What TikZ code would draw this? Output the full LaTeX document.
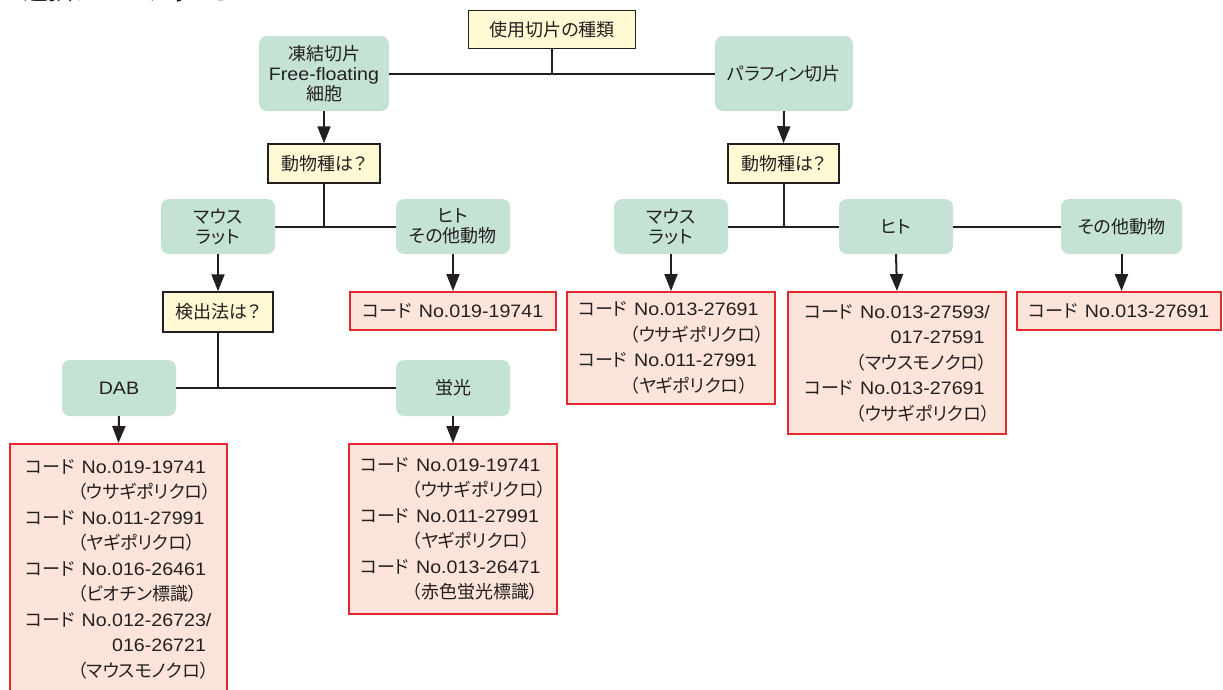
\documentclass[tikz,border=0pt]{standalone}
\usepackage{fontspec}
\setmainfont[RawFeature=+palt]{Noto Sans CJK JP}
\newfontfamily\lat[FakeStretch=1.09]{Liberation Sans}
\usetikzlibrary{arrows.meta}
\definecolor{grn}{HTML}{C5E3D5}
\definecolor{ylw}{HTML}{FFFAD4}
\definecolor{redf}{HTML}{FCE4DA}
\definecolor{redd}{HTML}{E52A2E}
\definecolor{ink}{HTML}{231F20}
\newcommand\cd[1]{コード\hspace{7pt}{\lat No.#1}}
\newcommand\pl[1]{\hspace*{52pt}#1}
\newcommand\nm[1]{\phantom{コード\hspace{7pt}{\lat No.}}{\lat #1}}
\begin{document}
\begin{tikzpicture}[x=1pt,y=-1pt, font=\fontsize{18}{20}\selectfont, text=ink,
  greenbox/.style={fill=grn, rounded corners=8pt, align=center, inner sep=0pt},
  qbox/.style={fill=ylw, draw=ink, line width=1.5pt, align=center, inner sep=0pt},
  codebox/.style={fill=redf, draw=redd, line width=2pt, align=left, inner sep=0pt, font=\fontsize{18}{25.5}\selectfont},
  conn/.style={draw=ink, line width=2pt},
  arr/.style={conn, -{Triangle[length=17pt,width=13pt]}}]
\clip (0,0) rectangle (1223,689);
% title (mostly cut off)
\node[anchor=base west, font=\fontsize{25}{25}\bfseries\selectfont] (title) at (20,-1) {選択フローチャート};
% top level
\node[qbox, minimum width=167pt, minimum height=38pt] (kind) at (552,29.5) {使用切片の種類};
\node[greenbox, minimum width=130pt, minimum height=75pt] (frozen) at (324,73.5) {凍結切片\\{\lat Free-floating}\\細胞};
\node[greenbox, minimum width=138pt, minimum height=75pt] (paraffin) at (784,73.5) {パラフィン切片};
% questions
\node[qbox, minimum width=112pt, minimum height=39pt] (q1) at (324,163.5) {動物種は？};
\node[qbox, minimum width=111pt, minimum height=39pt] (q2) at (783.5,163.5) {動物種は？};
% left animals
\node[greenbox, minimum width=114pt, minimum height=55pt] (lmouse) at (218,226.5) {マウス\\ラット};
\node[greenbox, minimum width=114pt, minimum height=55pt] (lhuman) at (453,226.5) {ヒト\\その他動物};
% right animals
\node[greenbox, minimum width=114pt, minimum height=55pt] (rmouse) at (671,226.5) {マウス\\ラット};
\node[greenbox, minimum width=114pt, minimum height=55pt] (rhuman) at (896,226.5) {ヒト};
\node[greenbox, minimum width=121pt, minimum height=55pt] (rother) at (1121.5,226.5) {その他動物};
% detection
\node[qbox, minimum width=110pt, minimum height=40pt] (q3) at (218,312) {検出法は？};
\node[greenbox, minimum width=114pt, minimum height=56pt] (dab) at (119,388) {{\lat DAB}};
\node[greenbox, minimum width=114pt, minimum height=56pt] (fl) at (453,388) {蛍光};
% code boxes
\node[codebox, minimum width=206pt, minimum height=38pt] (lhcode) at (453,311) {\cd{019-19741}};
\node[codebox, minimum width=217pt, minimum height=250pt] (dabcode) at (118.5,569) {\cd{019-19741}\\\pl{（ウサギポリクロ）}\\\cd{011-27991}\\\pl{（ヤギポリクロ）}\\\cd{016-26461}\\\pl{（ビオチン標識）}\\\cd{012-26723/}\\\nm{016-26721}\\\pl{（マウスモノクロ）}};
\node[codebox, minimum width=208pt, minimum height=170pt] (flcode) at (453,529) {\cd{019-19741}\\\pl{（ウサギポリクロ）}\\\cd{011-27991}\\\pl{（ヤギポリクロ）}\\\cd{013-26471}\\\pl{（赤色蛍光標識）}};
\node[codebox, minimum width=208pt, minimum height=112pt] (rmcode) at (671,348) {\cd{013-27691}\\\pl{（ウサギポリクロ）}\\\cd{011-27991}\\\pl{（ヤギポリクロ）}};
\node[codebox, minimum width=218pt, minimum height=142pt] (rhcode) at (897,363) {\cd{013-27593/}\\\nm{017-27591}\\\pl{（マウスモノクロ）}\\\cd{013-27691}\\\pl{（ウサギポリクロ）}};
\node[codebox, minimum width=204pt, minimum height=38pt] (rocode) at (1119,311) {\cd{013-27691}};
% connectors
\draw[conn] (frozen.east) -- (paraffin.west);
\draw[conn] (kind.south) -- (kind.south |- frozen.east);
\draw[arr] (frozen.south) -- (q1.north);
\draw[arr] (paraffin.south) -- (q2.north);
\draw[conn] (lmouse.east) -- (lhuman.west);
\draw[conn] (q1.south) -- (q1.south |- lmouse.east);
\draw[arr] (lmouse.south) -- (q3.north);
\draw[arr] (lhuman.south) -- (lhcode.north);
\draw[conn] (dab.east) -- (fl.west);
\draw[conn] (q3.south) -- (q3.south |- dab.east);
\draw[arr] (dab.south) -- (dabcode.north);
\draw[arr] (fl.south) -- (flcode.north);
\draw[conn] (rmouse.east) -- (rhuman.west);
\draw[conn] (rhuman.east) -- (rother.west);
\draw[conn] (q2.south) -- (q2.south |- rmouse.east);
\draw[arr] (rmouse.south) -- (rmcode.north);
\draw[arr] (rhuman.south) -- (rhcode.north);
\draw[arr] (rother.south) -- (rother.south |- rocode.north);
\end{tikzpicture}
\end{document}
